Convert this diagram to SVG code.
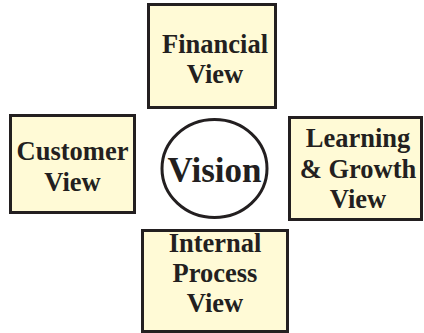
<svg xmlns="http://www.w3.org/2000/svg" width="424" height="333" viewBox="0 0 424 333">
<style>
.box{fill:#fffad6;stroke:#231f20;stroke-width:3}
.t{font-family:"Liberation Serif","Times New Roman",serif;font-weight:bold;font-size:26.5px;fill:#231f20;text-anchor:middle}
.v{font-size:35px}
</style>
<rect width="424" height="333" fill="#ffffff"/>
<g id="connectors"></g>
<g id="financial">
<rect class="box" x="148.5" y="4.5" width="127" height="103"/>
<text class="t" x="215" y="53">Financial</text>
<text class="t" x="215" y="83">View</text>
</g>
<g id="customer">
<rect class="box" x="10.5" y="115.5" width="124" height="97"/>
<text class="t" x="72.5" y="160">Customer</text>
<text class="t" x="72.5" y="191">View</text>
</g>
<g id="vision">
<ellipse cx="214.5" cy="168.5" rx="52.5" ry="49" fill="#ffffff" stroke="#231f20" stroke-width="3"/>
<text class="t v" x="214.5" y="182">Vision</text>
</g>
<g id="learning">
<rect class="box" x="289.5" y="117.5" width="132" height="102"/>
<text class="t" x="358" y="147">Learning</text>
<text class="t" x="358" y="178">&amp; Growth</text>
<text class="t" x="358" y="208">View</text>
</g>
<g id="internal">
<rect class="box" x="142.5" y="230.5" width="145" height="101"/>
<text class="t" x="215" y="252">Internal</text>
<text class="t" x="215" y="282">Process</text>
<text class="t" x="215" y="312">View</text>
</g>
</svg>
